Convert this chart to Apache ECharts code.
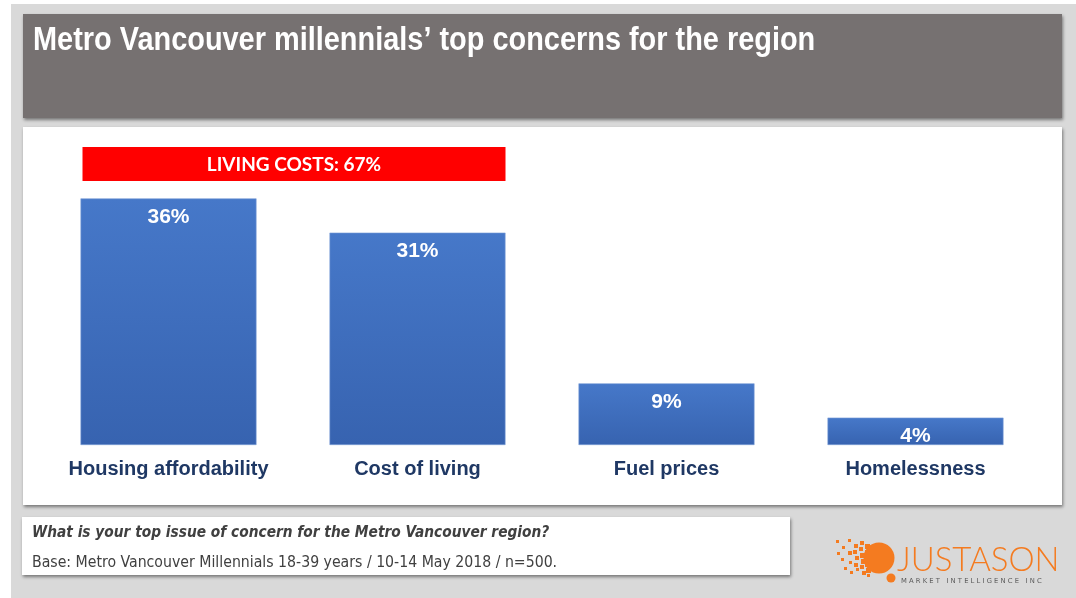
<!DOCTYPE html>
<html>
<head>
<meta charset="utf-8">
<script src="https://cdn.jsdelivr.net/npm/echarts@6/dist/echarts.min.js"></script>
<style>
  html, body { margin: 0; padding: 0; background: #ffffff; }
  #chart { width: 1076px; height: 598px; }
</style>
</head>
<body>
<div id="chart"></div>
<script>
// Survey results: top issue of concern, Metro Vancouver millennials
const categories = ['Housing affordability', 'Cost of living', 'Fuel prices', 'Homelessness'];
const shares = [36, 31, 9, 4];
// The first two issues are grouped as "living costs"
const livingCostItems = [0, 1];

const titleText = 'Metro Vancouver millennials\u2019 top concerns for the region';
const questionText = 'What is your top issue of concern for the Metro Vancouver region?';
const baseText = 'Base: Metro Vancouver Millennials 18-39 years / 10-14 May 2018 / n=500.';

const chart = echarts.init(document.getElementById('chart'), null, { renderer: 'canvas' });

const panelShadow = { shadowBlur: 3, shadowOffsetX: 1, shadowOffsetY: 2, shadowColor: 'rgba(0,0,0,0.45)' };

function logoElements() {
  const orange = '#f47b20';
  // pixel squares breaking away from the left of the disc: [x, y, size]
  const dots = [
    [836, 540, 3], [837, 552, 3],
    [842, 546, 3], [841, 558, 3], [844, 567, 3],
    [848, 539, 3], [848, 551, 4], [849, 561, 3], [850, 571, 3],
    [854, 544, 4], [853, 550, 4], [855, 556, 4], [854, 563, 4], [856, 568, 3],
    [860, 541, 4], [859, 547, 4], [860, 553, 5], [861, 559, 5], [860, 565, 4], [862, 571, 4],
    [865, 544, 5], [865, 550, 5], [866, 556, 5], [865, 562, 5], [866, 568, 5], [867, 574, 3]
  ];
  const els = dots.map(d => ({
    type: 'rect', silent: true, shape: { x: d[0], y: d[1], width: d[2], height: d[2] },
    style: { fill: orange }
  }));
  els.push({ type: 'circle', silent: true, shape: { cx: 879, cy: 558, r: 15.5 }, style: { fill: orange } });
  els.push({ type: 'circle', silent: true, shape: { cx: 891, cy: 578, r: 4.5 }, style: { fill: orange } });
  els.push({
    type: 'text', silent: true, x: 897, y: 560,
    style: { text: 'JUSTASON', fill: orange, font: '300 33px Lato, "Open Sans", sans-serif', verticalAlign: 'middle', align: 'left' }
  });
  els.push({
    type: 'text', silent: true, x: 901, y: 581,
    style: { text: 'M A R K E T   I N T E L L I G E N C E   I N C', fill: '#5a5a5a', font: '6.8px "DejaVu Sans", sans-serif', verticalAlign: 'middle', align: 'left' }
  });
  return els;
}

const option = {
  animation: false,
  backgroundColor: 'transparent',
  grid: { left: 44, right: 36, top: 171, bottom: 153 },
  xAxis: {
    type: 'category',
    data: categories,
    axisLine: { show: false },
    axisTick: { show: false },
    axisLabel: {
      margin: 14,
      color: '#1f3864',
      fontFamily: '"Liberation Sans", Arial, sans-serif',
      fontWeight: 'bold',
      fontSize: 20,
      interval: 0
    }
  },
  yAxis: { type: 'value', min: 0, max: 40, show: false, splitLine: { show: false } },
  series: [{
    type: 'bar',
    data: shares,
    barWidth: 176,
    itemStyle: {
      color: new echarts.graphic.LinearGradient(0, 0, 0, 1, [
        { offset: 0, color: '#4678c9' },
        { offset: 1, color: '#3763b0' }
      ]),
      borderColor: '#7c9fd9',
      borderWidth: 0.6
    },
    label: {
      show: true,
      position: 'insideTop',
      distance: 8,
      formatter: p => p.value + '%',
      color: '#ffffff',
      fontFamily: '"Liberation Sans", Arial, sans-serif',
      fontWeight: 'bold',
      fontSize: 21
    },
    z: 5
  }],
  graphic: [
    // page backdrop
    { type: 'rect', z: -10, silent: true, shape: { x: 11, y: 4, width: 1065, height: 594 }, style: { fill: '#d9d9d9' } },
    // title band
    { type: 'rect', z: -9, silent: true, shape: { x: 23, y: 14, width: 1039, height: 104 }, style: Object.assign({ fill: '#767171' }, panelShadow) },
    {
      // condensed bold headline
      type: 'text', z: -8, silent: true, x: 33, y: 41, scaleX: 0.876, originX: 0, originY: 0,
      style: { text: titleText, fill: '#ffffff', font: 'bold 33px "Liberation Sans", Arial, sans-serif', verticalAlign: 'middle' }
    },
    // chart panel
    { type: 'rect', z: -9, silent: true, shape: { x: 23, y: 127, width: 1039, height: 378 }, style: Object.assign({ fill: '#ffffff' }, panelShadow) },
    // question / base note
    { type: 'rect', z: -9, silent: true, shape: { x: 22, y: 517, width: 768, height: 58 }, style: Object.assign({ fill: '#ffffff' }, panelShadow) },
    {
      type: 'text', z: -8, silent: true, x: 32, y: 533,
      style: { text: questionText, fill: '#404040', font: 'italic bold 15.3px "DejaVu Sans Condensed", "DejaVu Sans", sans-serif', verticalAlign: 'middle' }
    },
    {
      type: 'text', z: -8, silent: true, x: 32, y: 563,
      style: { text: baseText, fill: '#404040', font: '15.7px "DejaVu Sans Condensed", "DejaVu Sans", sans-serif', verticalAlign: 'middle' }
    }
  ].concat(logoElements())
};

chart.setOption(option);

// Living-costs banner spanning the grouped bars, placed from the axis scale
(function addBanner() {
  const half = 88;
  const first = livingCostItems[0];
  const last = livingCostItems[livingCostItems.length - 1];
  const x0 = chart.convertToPixel({ gridIndex: 0 }, [first, 0])[0] - half + 2;
  const x1 = chart.convertToPixel({ gridIndex: 0 }, [last, 0])[0] + half;
  const total = livingCostItems.reduce((s, i) => s + shares[i], 0);
  const g = option.graphic.slice();
  g.push({
    type: 'rect', silent: true, z: 6,
    shape: { x: x0, y: 147, width: x1 - x0, height: 34 },
    style: { fill: '#ff0000' }
  });
  g.push({
    type: 'text', silent: true, z: 7,
    x: (x0 + x1) / 2, y: 165,
    style: { text: 'LIVING COSTS: ' + total + '%', fill: '#ffffff', font: 'bold 19px Lato, "Open Sans", sans-serif', align: 'center', verticalAlign: 'middle' }
  });
  chart.setOption({ graphic: g }, { replaceMerge: ['graphic'] });
})();
</script>
</body>
</html>
